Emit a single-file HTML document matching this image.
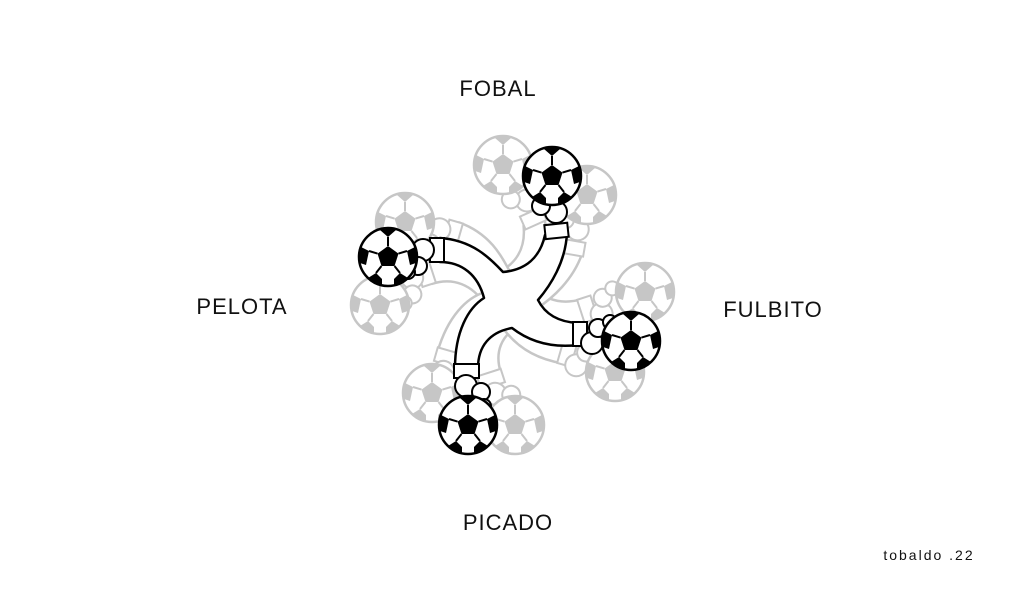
<!DOCTYPE html>
<html><head><meta charset="utf-8"><style>
html,body{margin:0;padding:0;background:#fff;width:1020px;height:600px;overflow:hidden}
svg{display:block}
text{font-family:"Liberation Sans",sans-serif;fill:#111}
</style></head><body>
<svg width="1020" height="600" viewBox="0 0 1020 600" xmlns="http://www.w3.org/2000/svg">
<defs>
<g id="ball">
<circle r="29" fill="#fff" stroke="#000" stroke-width="2.5"/>
<polygon points="0,-11 10.5,-3.4 6.5,9 -6.5,9 -10.5,-3.4" fill="#000"/>
<g stroke="#000" stroke-width="2">
<line x1="0" y1="-11" x2="0" y2="-20"/><line x1="10.5" y1="-3.4" x2="19" y2="-6"/>
<line x1="6.5" y1="9" x2="12" y2="16"/><line x1="-6.5" y1="9" x2="-12" y2="16"/>
<line x1="-10.5" y1="-3.4" x2="-19" y2="-6"/>
</g>
<path d="M-8,-27 L0,-20 L8,-27 A29,29 0 0 0 -8,-27Z" fill="#000"/>
<path d="M19,-6 L27,-10 A29,29 0 0 1 28,6 L22,8Z" fill="#000"/>
<path d="M-19,-6 L-27,-10 A29,29 0 0 0 -28,6 L-22,8Z" fill="#000"/>
<path d="M12,16 L20,21 A29,29 0 0 1 6,28 L6,22Z" fill="#000"/>
<path d="M-12,16 L-20,21 A29,29 0 0 0 -6,28 L-6,22Z" fill="#000"/>
</g>
<g id="arms">
<path d="M545,235 C540,258 525,270 503,272 C490,258 472,240 440,238 L440,262 C462,262 478,275 484,298 C468,308 455,332 455,368 L478,368 C478,346 490,332 512,328 C530,342 552,348 578,345 L578,323 C558,322 545,314 538,300 C550,286 566,262 567,232 Z" fill="#fff" stroke="#000" stroke-width="2.5" stroke-linejoin="round"/>
<g fill="#fff" stroke="#000" stroke-width="2">
<rect x="545" y="224" width="23" height="14" transform="rotate(-6 556 231)"/>
<rect x="430" y="238" width="14" height="24"/>
<rect x="573" y="322" width="14" height="24"/>
<rect x="454" y="364" width="25" height="14"/>
<circle cx="556" cy="212" r="11"/><circle cx="541" cy="206" r="9"/><circle cx="538" cy="192" r="7"/>
<circle cx="423" cy="250" r="11"/><circle cx="418" cy="266" r="9"/><circle cx="408" cy="272" r="7"/>
<circle cx="592" cy="343" r="11"/><circle cx="598" cy="328" r="9"/><circle cx="610" cy="322" r="7"/>
<circle cx="466" cy="386" r="11"/><circle cx="481" cy="392" r="9"/><circle cx="484" cy="406" r="7"/>
</g>
</g>
</defs>
<g opacity="0.22">
<use href="#arms" transform="rotate(-18 505 298)"/>
<use href="#arms" transform="rotate(16 505 298)"/>
<use href="#ball" transform="translate(503,165)"/>
<use href="#ball" transform="translate(587,195)"/>
<use href="#ball" transform="translate(405,222)"/>
<use href="#ball" transform="translate(380,305)"/>
<use href="#ball" transform="translate(645,292)"/>
<use href="#ball" transform="translate(615,372)"/>
<use href="#ball" transform="translate(432,393)"/>
<use href="#ball" transform="translate(515,425)"/>
</g>
<use href="#arms"/>
<use href="#ball" transform="translate(552,176)"/>
<use href="#ball" transform="translate(388,257)"/>
<use href="#ball" transform="translate(631,341)"/>
<use href="#ball" transform="translate(468,425)"/>
<text x="498" y="96" font-size="22" text-anchor="middle" letter-spacing="1">FOBAL</text>
<text x="242" y="314" font-size="22" text-anchor="middle" letter-spacing="1">PELOTA</text>
<text x="773" y="317" font-size="22" text-anchor="middle" letter-spacing="1">FULBITO</text>
<text x="508" y="530" font-size="22" text-anchor="middle" letter-spacing="1">PICADO</text>
<text x="929" y="560" font-size="14" text-anchor="middle" font-family="Liberation Mono" letter-spacing="2">tobaldo .22</text>
</svg>
</body></html>
